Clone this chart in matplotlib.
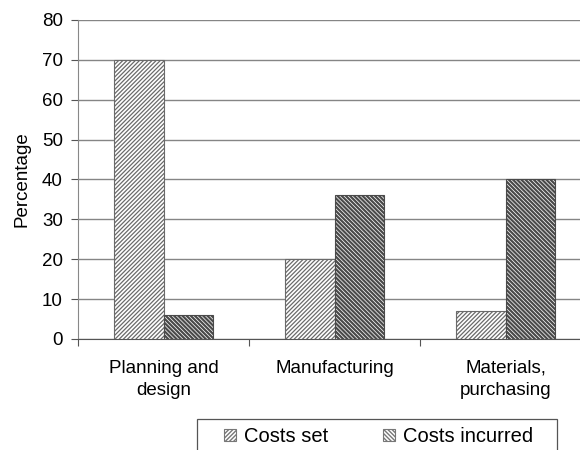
import matplotlib
matplotlib.use("Agg")
import matplotlib.pyplot as plt
from matplotlib.patches import Rectangle
import numpy as np

categories = ["Planning and\ndesign", "Manufacturing", "Materials,\npurchasing"]
costs_set = [70, 20, 7]
costs_incurred = [6, 36, 40]
series_names = ["Costs set", "Costs incurred"]
yticks = [0, 10, 20, 30, 40, 50, 60, 70, 80]

plt.rcParams['font.family'] = ['Liberation Sans', 'DejaVu Sans']
plt.rcParams['hatch.color'] = '#3a3a3a'
FS = 13.5
LFS = 14.5

fig = plt.figure(figsize=(5.8, 4.5), dpi=100)
fig.patch.set_facecolor('white')
ax = fig.add_axes([0.1345, 0.2467, 0.8845, 0.709])

x = np.arange(len(categories))
w = 0.287
b1 = ax.bar(x - w/2, costs_set, w, color='white', edgecolor='#6a6a6a',
            hatch='////////', linewidth=0.8, label=series_names[0], zorder=3)
b2 = ax.bar(x + w/2, costs_incurred, w, color='white', edgecolor='#4a4a4a',
            hatch='\\\\\\\\\\\\\\\\', linewidth=0.8, label=series_names[1], zorder=3)
for p in b1:
    try:
        p.set_hatch_linewidth(0.9)
    except Exception:
        pass
for p in b2:
    try:
        p.set_hatch_linewidth(1.6)
    except Exception:
        pass

ax.set_xlim(-0.5, 2.5)
ax.set_ylim(0, 80)
ax.set_yticks(yticks)
ax.set_yticklabels([str(v) for v in yticks], fontsize=FS)
ax.yaxis.grid(True, color='#858585', linewidth=1.0, zorder=0)
ax.set_axisbelow(True)

ax.set_xticks([-0.5, 0.5, 1.5, 2.5])
ax.set_xticklabels([])
ax.set_xticks(x, minor=True)
ax.set_xticklabels(categories, minor=True, fontsize=FS, linespacing=1.4)
ax.tick_params(axis='x', which='minor', length=0, pad=15)
ax.tick_params(axis='x', which='major', length=5, color='#555555', direction='out')
ax.tick_params(axis='y', length=5, color='#555555', direction='out', pad=6)

for s in ['top', 'right']:
    ax.spines[s].set_visible(False)
ax.spines['left'].set_color('#888888')
ax.spines['bottom'].set_color('#555555')

ax.set_ylabel("Percentage", fontsize=FS, labelpad=8)

# legend frame (drawn separately so horizontal padding can be wide)
frame = Rectangle((197/580, -0.05), 360/580, 0.05 + 1 - 419/450,
                  transform=fig.transFigure, fill=False, edgecolor='#555555',
                  linewidth=0.9)
fig.patches.append(frame)

leg = fig.legend(handles=[b1, b2], labels=series_names, loc='upper left',
                 bbox_to_anchor=(224/580, 1 - 427/450), bbox_transform=fig.transFigure,
                 ncol=2, fontsize=LFS, frameon=False,
                 handlelength=0.6, handleheight=0.6,
                 handletextpad=0.4, columnspacing=2.7, borderpad=0,
                 borderaxespad=0)
for t in leg.legend_handles:
    t.set_edgecolor('#777777')

fig.savefig("out.png", dpi=100, facecolor='white')
